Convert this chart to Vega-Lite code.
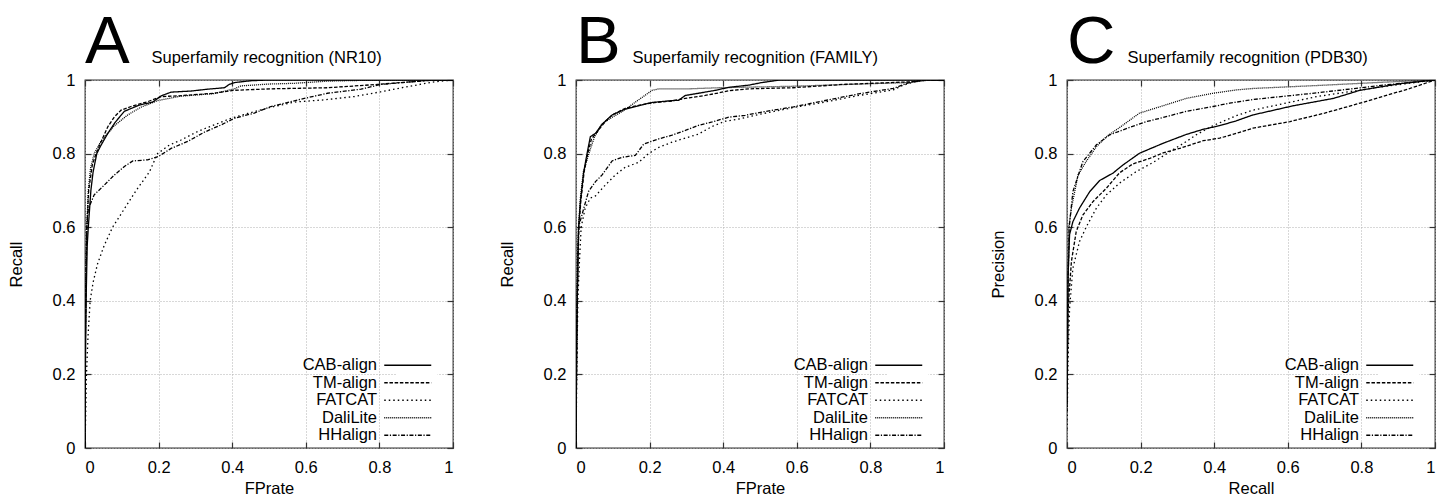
{
"$schema": "https://vega.github.io/schema/vega-lite/v6.json",
"padding": {"left": 7, "top": 8, "right": 5, "bottom": 0},
"config": {
  "font": "Liberation Sans",
  "view": {"stroke": "#333", "strokeWidth": 1.3},
  "axis": {"labelFont": "Liberation Sans", "labelFontSize": 16.5, "labelColor": "black", "titleFont": "Liberation Sans", "titleFontSize": 16.5, "titleFontWeight": "normal", "titleColor": "black", "gridColor": "#b0b0b0", "gridDash": [1, 2], "gridWidth": 1, "tickColor": "#333", "tickSize": -6, "tickWidth": 1.2, "domain": false, "labelPadding": 16, "titlePadding": 6},
  "axisY": {"titlePadding": 28},
  "axisX": {"labelPadding": 17, "titlePadding": 5},
  "legend": {"orient": "none", "legendX": 311.5, "legendY": 274, "title": null, "symbolType": "M-4,0H4", "symbolSize": 138, "symbolStrokeWidth": 1.3, "symbolStrokeColor": "black", "symbolFillColor": "transparent", "symbolOpacity": 1, "labelFont": "Liberation Sans", "labelFontSize": 16.5, "labelColor": "black", "labelAlign": "right", "labelOffset": -39, "rowPadding": 0.5, "fillColor": "white", "padding": 3},
  "title": {"font": "Liberation Sans", "fontSize": 67, "fontWeight": "normal", "anchor": "start", "frame": "group", "color": "black", "offset": -28}
},
"datasets": {
"A": [
{"m":"CAB-align","x":0,"y":0},{"m":"CAB-align","x":0.001,"y":0.2},{"m":"CAB-align","x":0.003,"y":0.4},{"m":"CAB-align","x":0.006,"y":0.55},{"m":"CAB-align","x":0.009,"y":0.6},{"m":"CAB-align","x":0.016,"y":0.7},{"m":"CAB-align","x":0.022,"y":0.75},{"m":"CAB-align","x":0.032,"y":0.8},{"m":"CAB-align","x":0.042,"y":0.82},{"m":"CAB-align","x":0.062,"y":0.855},{"m":"CAB-align","x":0.082,"y":0.885},{"m":"CAB-align","x":0.107,"y":0.915},{"m":"CAB-align","x":0.148,"y":0.932},{"m":"CAB-align","x":0.184,"y":0.94},{"m":"CAB-align","x":0.207,"y":0.957},{"m":"CAB-align","x":0.234,"y":0.967},{"m":"CAB-align","x":0.288,"y":0.97},{"m":"CAB-align","x":0.333,"y":0.975},{"m":"CAB-align","x":0.379,"y":0.979},{"m":"CAB-align","x":0.392,"y":0.988},{"m":"CAB-align","x":0.406,"y":0.993},{"m":"CAB-align","x":0.451,"y":0.998},{"m":"CAB-align","x":0.5,"y":1.0},{"m":"CAB-align","x":1.0,"y":1.0},
{"m":"TM-align","x":0,"y":0},{"m":"TM-align","x":0.001,"y":0.3},{"m":"TM-align","x":0.005,"y":0.6},{"m":"TM-align","x":0.01,"y":0.7},{"m":"TM-align","x":0.02,"y":0.77},{"m":"TM-align","x":0.03,"y":0.8},{"m":"TM-align","x":0.045,"y":0.835},{"m":"TM-align","x":0.062,"y":0.873},{"m":"TM-align","x":0.08,"y":0.9},{"m":"TM-align","x":0.098,"y":0.918},{"m":"TM-align","x":0.125,"y":0.928},{"m":"TM-align","x":0.17,"y":0.941},{"m":"TM-align","x":0.207,"y":0.955},{"m":"TM-align","x":0.252,"y":0.957},{"m":"TM-align","x":0.351,"y":0.964},{"m":"TM-align","x":0.406,"y":0.972},{"m":"TM-align","x":0.505,"y":0.976},{"m":"TM-align","x":0.66,"y":0.979},{"m":"TM-align","x":0.795,"y":0.988},{"m":"TM-align","x":0.95,"y":1.0},{"m":"TM-align","x":1.0,"y":1.0},
{"m":"FATCAT","x":0,"y":0},{"m":"FATCAT","x":0.004,"y":0.2},{"m":"FATCAT","x":0.008,"y":0.3},{"m":"FATCAT","x":0.014,"y":0.4},{"m":"FATCAT","x":0.022,"y":0.45},{"m":"FATCAT","x":0.034,"y":0.5},{"m":"FATCAT","x":0.052,"y":0.55},{"m":"FATCAT","x":0.075,"y":0.6},{"m":"FATCAT","x":0.107,"y":0.65},{"m":"FATCAT","x":0.139,"y":0.7},{"m":"FATCAT","x":0.175,"y":0.75},{"m":"FATCAT","x":0.197,"y":0.8},{"m":"FATCAT","x":0.229,"y":0.823},{"m":"FATCAT","x":0.261,"y":0.837},{"m":"FATCAT","x":0.306,"y":0.86},{"m":"FATCAT","x":0.351,"y":0.878},{"m":"FATCAT","x":0.397,"y":0.896},{"m":"FATCAT","x":0.442,"y":0.909},{"m":"FATCAT","x":0.505,"y":0.926},{"m":"FATCAT","x":0.569,"y":0.94},{"m":"FATCAT","x":0.65,"y":0.946},{"m":"FATCAT","x":0.732,"y":0.955},{"m":"FATCAT","x":0.804,"y":0.968},{"m":"FATCAT","x":0.877,"y":0.982},{"m":"FATCAT","x":0.949,"y":0.995},{"m":"FATCAT","x":1.0,"y":1.0},
{"m":"DaliLite","x":0,"y":0},{"m":"DaliLite","x":0.001,"y":0.3},{"m":"DaliLite","x":0.003,"y":0.5},{"m":"DaliLite","x":0.005,"y":0.6},{"m":"DaliLite","x":0.009,"y":0.7},{"m":"DaliLite","x":0.015,"y":0.76},{"m":"DaliLite","x":0.025,"y":0.8},{"m":"DaliLite","x":0.043,"y":0.833},{"m":"DaliLite","x":0.08,"y":0.876},{"m":"DaliLite","x":0.116,"y":0.905},{"m":"DaliLite","x":0.152,"y":0.926},{"m":"DaliLite","x":0.197,"y":0.944},{"m":"DaliLite","x":0.26,"y":0.956},{"m":"DaliLite","x":0.35,"y":0.963},{"m":"DaliLite","x":0.406,"y":0.976},{"m":"DaliLite","x":0.424,"y":0.984},{"m":"DaliLite","x":0.5,"y":0.989},{"m":"DaliLite","x":0.569,"y":0.991},{"m":"DaliLite","x":0.66,"y":0.997},{"m":"DaliLite","x":0.8,"y":1.0},{"m":"DaliLite","x":1.0,"y":1.0},
{"m":"HHalign","x":0,"y":0},{"m":"HHalign","x":0.001,"y":0.3},{"m":"HHalign","x":0.003,"y":0.5},{"m":"HHalign","x":0.005,"y":0.6},{"m":"HHalign","x":0.009,"y":0.65},{"m":"HHalign","x":0.025,"y":0.688},{"m":"HHalign","x":0.053,"y":0.715},{"m":"HHalign","x":0.08,"y":0.742},{"m":"HHalign","x":0.107,"y":0.765},{"m":"HHalign","x":0.13,"y":0.78},{"m":"HHalign","x":0.17,"y":0.783},{"m":"HHalign","x":0.199,"y":0.792},{"m":"HHalign","x":0.234,"y":0.814},{"m":"HHalign","x":0.279,"y":0.833},{"m":"HHalign","x":0.324,"y":0.858},{"m":"HHalign","x":0.37,"y":0.878},{"m":"HHalign","x":0.406,"y":0.896},{"m":"HHalign","x":0.46,"y":0.91},{"m":"HHalign","x":0.505,"y":0.928},{"m":"HHalign","x":0.596,"y":0.95},{"m":"HHalign","x":0.659,"y":0.964},{"m":"HHalign","x":0.75,"y":0.975},{"m":"HHalign","x":0.804,"y":0.988},{"m":"HHalign","x":0.886,"y":0.995},{"m":"HHalign","x":0.95,"y":1.0},{"m":"HHalign","x":1.0,"y":1.0}
],
"B": [
{"m":"CAB-align","x":0,"y":0},{"m":"CAB-align","x":0.002,"y":0.3},{"m":"CAB-align","x":0.005,"y":0.5},{"m":"CAB-align","x":0.007,"y":0.6},{"m":"CAB-align","x":0.012,"y":0.67},{"m":"CAB-align","x":0.021,"y":0.75},{"m":"CAB-align","x":0.03,"y":0.8},{"m":"CAB-align","x":0.039,"y":0.846},{"m":"CAB-align","x":0.053,"y":0.855},{"m":"CAB-align","x":0.071,"y":0.88},{"m":"CAB-align","x":0.098,"y":0.905},{"m":"CAB-align","x":0.134,"y":0.921},{"m":"CAB-align","x":0.17,"y":0.93},{"m":"CAB-align","x":0.207,"y":0.939},{"m":"CAB-align","x":0.261,"y":0.944},{"m":"CAB-align","x":0.279,"y":0.945},{"m":"CAB-align","x":0.297,"y":0.958},{"m":"CAB-align","x":0.333,"y":0.964},{"m":"CAB-align","x":0.379,"y":0.972},{"m":"CAB-align","x":0.415,"y":0.98},{"m":"CAB-align","x":0.469,"y":0.986},{"m":"CAB-align","x":0.505,"y":0.993},{"m":"CAB-align","x":0.554,"y":1.0},{"m":"CAB-align","x":1.0,"y":1.0},
{"m":"TM-align","x":0,"y":0},{"m":"TM-align","x":0.002,"y":0.3},{"m":"TM-align","x":0.005,"y":0.5},{"m":"TM-align","x":0.008,"y":0.6},{"m":"TM-align","x":0.013,"y":0.67},{"m":"TM-align","x":0.022,"y":0.75},{"m":"TM-align","x":0.032,"y":0.8},{"m":"TM-align","x":0.042,"y":0.84},{"m":"TM-align","x":0.06,"y":0.862},{"m":"TM-align","x":0.08,"y":0.888},{"m":"TM-align","x":0.1,"y":0.906},{"m":"TM-align","x":0.134,"y":0.923},{"m":"TM-align","x":0.17,"y":0.931},{"m":"TM-align","x":0.207,"y":0.938},{"m":"TM-align","x":0.261,"y":0.943},{"m":"TM-align","x":0.297,"y":0.95},{"m":"TM-align","x":0.351,"y":0.958},{"m":"TM-align","x":0.388,"y":0.965},{"m":"TM-align","x":0.415,"y":0.971},{"m":"TM-align","x":0.469,"y":0.976},{"m":"TM-align","x":0.59,"y":0.979},{"m":"TM-align","x":0.726,"y":0.988},{"m":"TM-align","x":0.908,"y":0.995},{"m":"TM-align","x":0.96,"y":1.0},{"m":"TM-align","x":1.0,"y":1.0},
{"m":"FATCAT","x":0,"y":0},{"m":"FATCAT","x":0.002,"y":0.2},{"m":"FATCAT","x":0.005,"y":0.4},{"m":"FATCAT","x":0.009,"y":0.5},{"m":"FATCAT","x":0.014,"y":0.6},{"m":"FATCAT","x":0.025,"y":0.652},{"m":"FATCAT","x":0.039,"y":0.679},{"m":"FATCAT","x":0.053,"y":0.685},{"m":"FATCAT","x":0.08,"y":0.715},{"m":"FATCAT","x":0.107,"y":0.742},{"m":"FATCAT","x":0.134,"y":0.763},{"m":"FATCAT","x":0.17,"y":0.776},{"m":"FATCAT","x":0.197,"y":0.8},{"m":"FATCAT","x":0.225,"y":0.817},{"m":"FATCAT","x":0.261,"y":0.831},{"m":"FATCAT","x":0.306,"y":0.845},{"m":"FATCAT","x":0.333,"y":0.853},{"m":"FATCAT","x":0.37,"y":0.874},{"m":"FATCAT","x":0.406,"y":0.888},{"m":"FATCAT","x":0.442,"y":0.894},{"m":"FATCAT","x":0.505,"y":0.908},{"m":"FATCAT","x":0.59,"y":0.925},{"m":"FATCAT","x":0.681,"y":0.941},{"m":"FATCAT","x":0.763,"y":0.957},{"m":"FATCAT","x":0.862,"y":0.973},{"m":"FATCAT","x":0.889,"y":0.986},{"m":"FATCAT","x":0.926,"y":0.997},{"m":"FATCAT","x":0.95,"y":1.0},{"m":"FATCAT","x":1.0,"y":1.0},
{"m":"DaliLite","x":0,"y":0},{"m":"DaliLite","x":0.002,"y":0.3},{"m":"DaliLite","x":0.004,"y":0.5},{"m":"DaliLite","x":0.007,"y":0.6},{"m":"DaliLite","x":0.012,"y":0.68},{"m":"DaliLite","x":0.02,"y":0.75},{"m":"DaliLite","x":0.035,"y":0.8},{"m":"DaliLite","x":0.05,"y":0.845},{"m":"DaliLite","x":0.07,"y":0.88},{"m":"DaliLite","x":0.1,"y":0.9},{"m":"DaliLite","x":0.125,"y":0.914},{"m":"DaliLite","x":0.17,"y":0.946},{"m":"DaliLite","x":0.207,"y":0.972},{"m":"DaliLite","x":0.225,"y":0.976},{"m":"DaliLite","x":0.306,"y":0.976},{"m":"DaliLite","x":0.388,"y":0.979},{"m":"DaliLite","x":0.59,"y":0.983},{"m":"DaliLite","x":0.8,"y":0.99},{"m":"DaliLite","x":0.908,"y":0.993},{"m":"DaliLite","x":0.96,"y":1.0},{"m":"DaliLite","x":1.0,"y":1.0},
{"m":"HHalign","x":0,"y":0},{"m":"HHalign","x":0.002,"y":0.3},{"m":"HHalign","x":0.005,"y":0.5},{"m":"HHalign","x":0.007,"y":0.6},{"m":"HHalign","x":0.016,"y":0.633},{"m":"HHalign","x":0.034,"y":0.697},{"m":"HHalign","x":0.053,"y":0.724},{"m":"HHalign","x":0.071,"y":0.742},{"m":"HHalign","x":0.098,"y":0.78},{"m":"HHalign","x":0.125,"y":0.79},{"m":"HHalign","x":0.161,"y":0.795},{"m":"HHalign","x":0.184,"y":0.826},{"m":"HHalign","x":0.225,"y":0.84},{"m":"HHalign","x":0.261,"y":0.85},{"m":"HHalign","x":0.297,"y":0.863},{"m":"HHalign","x":0.333,"y":0.877},{"m":"HHalign","x":0.37,"y":0.886},{"m":"HHalign","x":0.415,"y":0.899},{"m":"HHalign","x":0.46,"y":0.904},{"m":"HHalign","x":0.505,"y":0.913},{"m":"HHalign","x":0.591,"y":0.927},{"m":"HHalign","x":0.681,"y":0.945},{"m":"HHalign","x":0.772,"y":0.963},{"m":"HHalign","x":0.862,"y":0.977},{"m":"HHalign","x":0.908,"y":0.994},{"m":"HHalign","x":0.95,"y":1.0},{"m":"HHalign","x":1.0,"y":1.0}
],
"C": [
{"m":"CAB-align","x":0,"y":0.12},{"m":"CAB-align","x":0.002,"y":0.35},{"m":"CAB-align","x":0.003,"y":0.47},{"m":"CAB-align","x":0.007,"y":0.58},{"m":"CAB-align","x":0.016,"y":0.615},{"m":"CAB-align","x":0.034,"y":0.652},{"m":"CAB-align","x":0.062,"y":0.697},{"m":"CAB-align","x":0.089,"y":0.727},{"m":"CAB-align","x":0.125,"y":0.747},{"m":"CAB-align","x":0.152,"y":0.769},{"m":"CAB-align","x":0.197,"y":0.801},{"m":"CAB-align","x":0.261,"y":0.828},{"m":"CAB-align","x":0.324,"y":0.852},{"m":"CAB-align","x":0.37,"y":0.866},{"m":"CAB-align","x":0.415,"y":0.876},{"m":"CAB-align","x":0.46,"y":0.889},{"m":"CAB-align","x":0.505,"y":0.905},{"m":"CAB-align","x":0.615,"y":0.93},{"m":"CAB-align","x":0.724,"y":0.95},{"m":"CAB-align","x":0.796,"y":0.972},{"m":"CAB-align","x":0.905,"y":0.99},{"m":"CAB-align","x":1.0,"y":1.0},
{"m":"TM-align","x":0,"y":0.1},{"m":"TM-align","x":0.003,"y":0.38},{"m":"TM-align","x":0.012,"y":0.507},{"m":"TM-align","x":0.025,"y":0.588},{"m":"TM-align","x":0.043,"y":0.633},{"m":"TM-align","x":0.071,"y":0.67},{"m":"TM-align","x":0.107,"y":0.706},{"m":"TM-align","x":0.143,"y":0.748},{"m":"TM-align","x":0.179,"y":0.772},{"m":"TM-align","x":0.225,"y":0.787},{"m":"TM-align","x":0.261,"y":0.802},{"m":"TM-align","x":0.306,"y":0.814},{"m":"TM-align","x":0.37,"y":0.835},{"m":"TM-align","x":0.415,"y":0.842},{"m":"TM-align","x":0.469,"y":0.858},{"m":"TM-align","x":0.505,"y":0.869},{"m":"TM-align","x":0.606,"y":0.887},{"m":"TM-align","x":0.7,"y":0.91},{"m":"TM-align","x":0.796,"y":0.937},{"m":"TM-align","x":0.932,"y":0.977},{"m":"TM-align","x":1.0,"y":1.0},
{"m":"FATCAT","x":0,"y":0.05},{"m":"FATCAT","x":0.003,"y":0.25},{"m":"FATCAT","x":0.007,"y":0.38},{"m":"FATCAT","x":0.016,"y":0.489},{"m":"FATCAT","x":0.034,"y":0.561},{"m":"FATCAT","x":0.053,"y":0.602},{"m":"FATCAT","x":0.08,"y":0.652},{"m":"FATCAT","x":0.107,"y":0.688},{"m":"FATCAT","x":0.143,"y":0.72},{"m":"FATCAT","x":0.188,"y":0.751},{"m":"FATCAT","x":0.234,"y":0.776},{"m":"FATCAT","x":0.279,"y":0.805},{"m":"FATCAT","x":0.32,"y":0.83},{"m":"FATCAT","x":0.351,"y":0.851},{"m":"FATCAT","x":0.397,"y":0.876},{"m":"FATCAT","x":0.46,"y":0.903},{"m":"FATCAT","x":0.505,"y":0.918},{"m":"FATCAT","x":0.679,"y":0.955},{"m":"FATCAT","x":0.859,"y":0.982},{"m":"FATCAT","x":1.0,"y":1.0},
{"m":"DaliLite","x":0,"y":0.2},{"m":"DaliLite","x":0.002,"y":0.4},{"m":"DaliLite","x":0.005,"y":0.6},{"m":"DaliLite","x":0.012,"y":0.652},{"m":"DaliLite","x":0.03,"y":0.742},{"m":"DaliLite","x":0.053,"y":0.78},{"m":"DaliLite","x":0.08,"y":0.819},{"m":"DaliLite","x":0.107,"y":0.846},{"m":"DaliLite","x":0.143,"y":0.871},{"m":"DaliLite","x":0.197,"y":0.91},{"m":"DaliLite","x":0.261,"y":0.93},{"m":"DaliLite","x":0.324,"y":0.95},{"m":"DaliLite","x":0.397,"y":0.964},{"m":"DaliLite","x":0.46,"y":0.973},{"m":"DaliLite","x":0.505,"y":0.977},{"m":"DaliLite","x":0.679,"y":0.985},{"m":"DaliLite","x":0.859,"y":0.994},{"m":"DaliLite","x":1.0,"y":1.0},
{"m":"HHalign","x":0,"y":0.15},{"m":"HHalign","x":0.002,"y":0.4},{"m":"HHalign","x":0.006,"y":0.6},{"m":"HHalign","x":0.016,"y":0.697},{"m":"HHalign","x":0.043,"y":0.778},{"m":"HHalign","x":0.08,"y":0.824},{"m":"HHalign","x":0.116,"y":0.851},{"m":"HHalign","x":0.17,"y":0.871},{"m":"HHalign","x":0.216,"y":0.887},{"m":"HHalign","x":0.261,"y":0.898},{"m":"HHalign","x":0.324,"y":0.915},{"m":"HHalign","x":0.397,"y":0.928},{"m":"HHalign","x":0.442,"y":0.937},{"m":"HHalign","x":0.505,"y":0.947},{"m":"HHalign","x":0.679,"y":0.965},{"m":"HHalign","x":0.859,"y":0.986},{"m":"HHalign","x":1.0,"y":1.0}
]
},
"resolve": {"scale": {"strokeDash": "independent"}, "legend": {"strokeDash": "independent"}},
"spacing": 43,
"hconcat": [
{"title": {"text": "A"}, "width": 368, "height": 368, "data": {"name": "A"},
 "layer": [
  {"mark": {"type": "line", "color": "black", "strokeWidth": 1.3, "clip": true},
   "encoding": {
    "x": {"field": "x", "type": "quantitative", "scale": {"domain": [0, 1]}, "axis": {"title": "FPrate", "values": [0, 0.2, 0.4, 0.6, 0.8, 1], "format": "~g", "grid": true}},
    "y": {"field": "y", "type": "quantitative", "scale": {"domain": [0, 1]}, "axis": {"title": "Recall", "values": [0, 0.2, 0.4, 0.6, 0.8, 1], "format": "~g", "grid": true}},
    "strokeDash": {"field": "m", "type": "nominal", "scale": {"domain": ["CAB-align", "TM-align", "FATCAT", "DaliLite", "HHalign"], "range": [[1, 0], [3.5, 1.7], [1.5, 3], [1, 1], [4, 1.6, 1.2, 1.6]]}, "legend": {}}
   }},
  {"mark": {"type": "line", "opacity": 0},
   "encoding": {
    "x": {"field": "x", "type": "quantitative", "axis": {"orient": "top", "labels": false, "grid": false, "values": [0, 0.2, 0.4, 0.6, 0.8, 1], "title": "Superfamily recognition (NR10)", "titleX": 66, "titleY": -18, "titleAlign": "left", "titleBaseline": "alphabetic"}},
    "y": {"field": "y", "type": "quantitative", "axis": {"orient": "right", "labels": false, "grid": false, "values": [0, 0.2, 0.4, 0.6, 0.8, 1], "title": null}},
    "detail": {"field": "m"}
   }}
 ],
 "resolve": {"axis": {"x": "independent", "y": "independent"}}
},
{"title": {"text": "B"}, "width": 368, "height": 368, "data": {"name": "B"},
 "layer": [
  {"mark": {"type": "line", "color": "black", "strokeWidth": 1.3, "clip": true},
   "encoding": {
    "x": {"field": "x", "type": "quantitative", "scale": {"domain": [0, 1]}, "axis": {"title": "FPrate", "values": [0, 0.2, 0.4, 0.6, 0.8, 1], "format": "~g", "grid": true}},
    "y": {"field": "y", "type": "quantitative", "scale": {"domain": [0, 1]}, "axis": {"title": "Recall", "values": [0, 0.2, 0.4, 0.6, 0.8, 1], "format": "~g", "grid": true}},
    "strokeDash": {"field": "m", "type": "nominal", "scale": {"domain": ["CAB-align", "TM-align", "FATCAT", "DaliLite", "HHalign"], "range": [[1, 0], [3.5, 1.7], [1.5, 3], [1, 1], [4, 1.6, 1.2, 1.6]]}, "legend": {}}
   }},
  {"mark": {"type": "line", "opacity": 0},
   "encoding": {
    "x": {"field": "x", "type": "quantitative", "axis": {"orient": "top", "labels": false, "grid": false, "values": [0, 0.2, 0.4, 0.6, 0.8, 1], "title": "Superfamily recognition (FAMILY)", "titleX": 56, "titleY": -18, "titleAlign": "left", "titleBaseline": "alphabetic"}},
    "y": {"field": "y", "type": "quantitative", "axis": {"orient": "right", "labels": false, "grid": false, "values": [0, 0.2, 0.4, 0.6, 0.8, 1], "title": null}},
    "detail": {"field": "m"}
   }}
 ],
 "resolve": {"axis": {"x": "independent", "y": "independent"}}
},
{"title": {"text": "C"}, "width": 368, "height": 368, "data": {"name": "C"},
 "layer": [
  {"mark": {"type": "line", "color": "black", "strokeWidth": 1.3, "clip": true},
   "encoding": {
    "x": {"field": "x", "type": "quantitative", "scale": {"domain": [0, 1]}, "axis": {"title": "Recall", "values": [0, 0.2, 0.4, 0.6, 0.8, 1], "format": "~g", "grid": true}},
    "y": {"field": "y", "type": "quantitative", "scale": {"domain": [0, 1]}, "axis": {"title": "Precision", "values": [0, 0.2, 0.4, 0.6, 0.8, 1], "format": "~g", "grid": true}},
    "strokeDash": {"field": "m", "type": "nominal", "scale": {"domain": ["CAB-align", "TM-align", "FATCAT", "DaliLite", "HHalign"], "range": [[1, 0], [3.5, 1.7], [1.5, 3], [1, 1], [4, 1.6, 1.2, 1.6]]}, "legend": {}}
   }},
  {"mark": {"type": "line", "opacity": 0},
   "encoding": {
    "x": {"field": "x", "type": "quantitative", "axis": {"orient": "top", "labels": false, "grid": false, "values": [0, 0.2, 0.4, 0.6, 0.8, 1], "title": "Superfamily recognition (PDB30)", "titleX": 60, "titleY": -18, "titleAlign": "left", "titleBaseline": "alphabetic"}},
    "y": {"field": "y", "type": "quantitative", "axis": {"orient": "right", "labels": false, "grid": false, "values": [0, 0.2, 0.4, 0.6, 0.8, 1], "title": null}},
    "detail": {"field": "m"}
   }}
 ],
 "resolve": {"axis": {"x": "independent", "y": "independent"}}
}
]
}
